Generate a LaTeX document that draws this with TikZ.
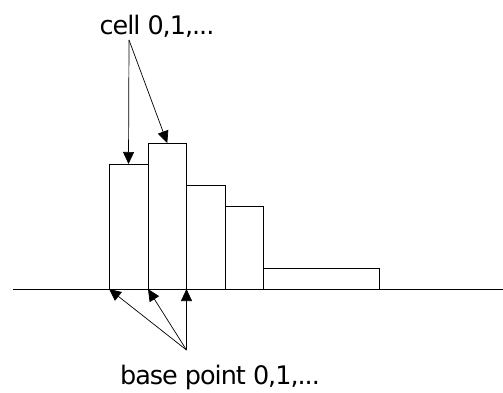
\documentclass[tikz,border=0pt]{standalone}
\usepackage{fontspec}
\setmainfont{DejaVu Sans}[LetterSpace=-4]
\usetikzlibrary{arrows.meta}
\begin{document}
\begin{tikzpicture}[x=1pt,y=-1pt,
  bar/.style={draw,line width=0.8pt,inner sep=0pt,outer sep=0pt,anchor=south west},
  lbl/.style={font=\fontsize{25.5}{28}\selectfont,inner sep=0pt},
  arr/.style={line width=0.7pt,-{Triangle[length=12pt,width=11pt]}}]
\useasboundingbox (0,0) rectangle (503,393);
\draw[line width=0.8pt] (13,289) -- (503,289);
\node[bar,minimum width=39pt,minimum height=125pt] (b1) at (109,289) {};
\node[bar,minimum width=38.5pt,minimum height=146pt] (b2) at (148,289) {};
\node[bar,minimum width=38.5pt,minimum height=104pt] (b3) at (186.5,289) {};
\node[bar,minimum width=38.5pt,minimum height=83pt] (b4) at (225,289) {};
\node[bar,minimum width=116pt,minimum height=21pt] (b5) at (263.5,289) {};
\node[lbl] (cell) at (157,26) {cell 0,1,...};
\node[lbl] (base) at (220,377) {base point 0,1,...};
\coordinate (cs) at (129,40);
\coordinate (bs) at (186.5,350);
\draw[arr] (cs) -- (b1.north);
\draw[arr] (cs) -- (b2.north);
\draw[arr] (bs) -- (b1.south west);
\draw[arr] (bs) -- (b2.south west);
\draw[arr] (bs) -- (b3.south west);
\end{tikzpicture}
\end{document}
